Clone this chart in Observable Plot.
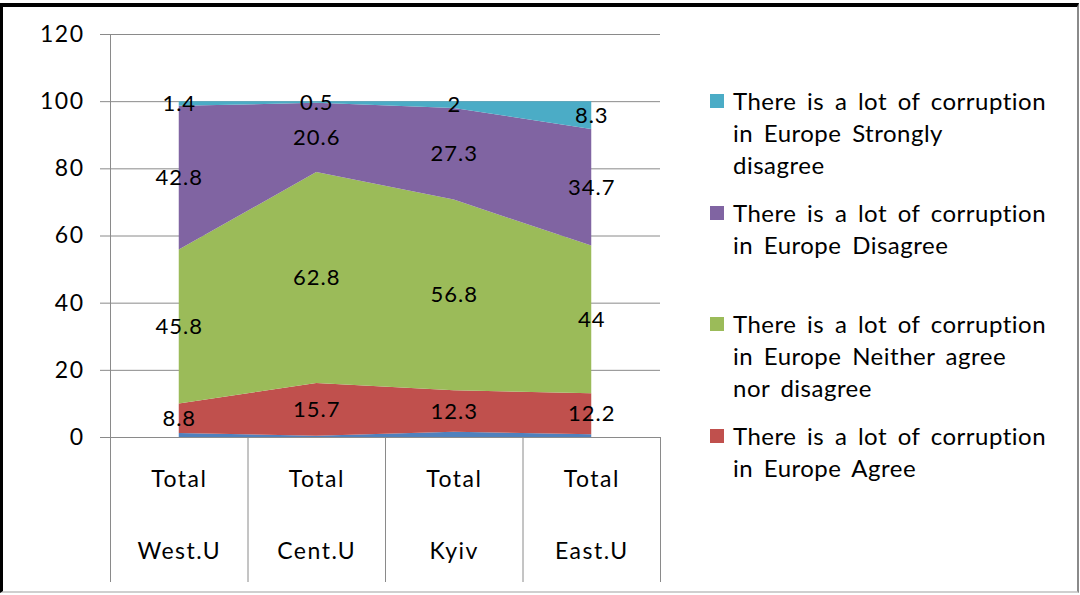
<!DOCTYPE html>
<html><head><meta charset="utf-8">
<script src="https://cdn.jsdelivr.net/npm/d3@7"></script>
<script src="https://cdn.jsdelivr.net/npm/@observablehq/plot@0.6"></script>
<style>
body{margin:0;background:#fff;}
#wrap{position:relative;width:1080px;height:595px;overflow:hidden;font-family:Lato, "Open Sans", sans-serif;}
#chart{position:absolute;left:0;top:0;}
#chart svg text{letter-spacing:1.5px;}
#chart g[aria-label="text"] text{letter-spacing:1px;}
#frame{position:absolute;left:0;top:3px;width:1079px;height:590px;border-left:3px solid #000;border-top:4px solid #000;border-right:2px solid #8a8a8a;border-bottom:2px solid #cfcfcf;box-sizing:border-box;pointer-events:none;}
#legend{position:absolute;left:710px;top:85px;width:360px;}
.item{height:111.67px;display:flex;align-items:flex-start;}
.sw{width:14px;height:14px;margin-top:9px;margin-right:9px;flex:none;}
.lab{font-size:24px;line-height:32px;color:#000;white-space:pre-line;letter-spacing:0.5px;word-spacing:4px;}
</style>
</head><body>
<div id="wrap"><div id="chart"></div><div id="legend"></div><div id="frame"></div></div>
<script>
// ---- data ----
const regions = ["West.U", "Cent.U", "Kyiv", "East.U"];
const groupLabels = ["Total", "Total", "Total", "Total"];
const seriesNames = [
  "There is a lot of corruption in Europe Strongly agree",
  "There is a lot of corruption in Europe Agree",
  "There is a lot of corruption in Europe Neither agree nor disagree",
  "There is a lot of corruption in Europe Disagree",
  "There is a lot of corruption in Europe Strongly disagree"
];
// legend text as wrapped in the original
const legendLabels = [
  "",
  "There is a lot of corruption\nin Europe Agree",
  "There is a lot of corruption\nin Europe Neither agree\nnor disagree",
  "There is a lot of corruption\nin Europe Disagree",
  "There is a lot of corruption\nin Europe Strongly\ndisagree"
];
const stronglyAgree    = [1.2, 0.4, 1.6, 0.8];
const agree            = [8.8, 15.7, 12.3, 12.2];
const neither          = [45.8, 62.8, 56.8, 44];
const disagree         = [42.8, 20.6, 27.3, 34.7];
const stronglyDisagree = [1.4, 0.5, 2, 8.3];
const seriesColors = ["#4F81BD", "#C0504D", "#9BBB59", "#8064A2", "#4BACC6"];
const showLabel = [false, true, true, true, true];
const legendOrder = [4, 3, 2, 1]; // series shown in legend, top to bottom
const yTicks = [0, 20, 40, 60, 80, 100, 120];

const seriesValues = [stronglyAgree, agree, neither, disagree, stronglyDisagree];
const rows = [];
seriesValues.forEach((vals, s) => vals.forEach((v, i) => rows.push({i, series: seriesNames[s], value: v, labelled: showLabel[s]})));
const idx = regions.map((_, i) => i);
const bounds = d3.range(regions.length + 1).map(i => i - 0.5);

const W = 1080, H = 595;
const grid = "#8a8a8a";
const plot = Plot.plot({
  width: W, height: H,
  marginLeft: 110, marginRight: W - 660, marginTop: 34, marginBottom: H - 437,
  style: {fontFamily: "Lato, 'Open Sans', sans-serif", fontSize: "23px", color: "#000", background: "transparent"},
  x: {type: "linear", domain: [-0.5, regions.length - 0.5]},
  y: {domain: [0, 120]},
  color: {domain: seriesNames, range: seriesColors},
  marks: [
    Plot.gridY(yTicks, {stroke: grid, strokeOpacity: 1}),
    Plot.areaY(rows, {x: "i", y: "value", z: "series", fill: "series", curve: "linear"}),
    Plot.ruleX([bounds[0]], {stroke: grid}),
    Plot.axisY(yTicks, {tickSize: 10, tickPadding: 16, stroke: grid, fill: "#000", label: null}),
    Plot.axisX(bounds, {tickSize: 145, tickFormat: () => "", stroke: grid, label: null}),
    Plot.axisX(idx, {tickSize: 0, tickPadding: 33, tickFormat: i => groupLabels[i], fill: "#000", label: null}),
    Plot.axisX(idx, {tickSize: 0, tickPadding: 105, tickFormat: i => regions[i], fill: "#000", label: null}),
    Plot.text(rows, Plot.stackY({x: "i", y: "value", z: "series", text: d => d.labelled ? String(d.value) : "", fill: "#000", fontSize: 22}))
  ]
});
document.getElementById("chart").appendChild(plot);

const legend = document.getElementById("legend");
legendOrder.forEach(s => {
  const item = document.createElement("div"); item.className = "item";
  const sw = document.createElement("div"); sw.className = "sw"; sw.style.background = seriesColors[s];
  const lab = document.createElement("div"); lab.className = "lab"; lab.textContent = legendLabels[s];
  item.appendChild(sw); item.appendChild(lab); legend.appendChild(item);
});
</script>
</body></html>
